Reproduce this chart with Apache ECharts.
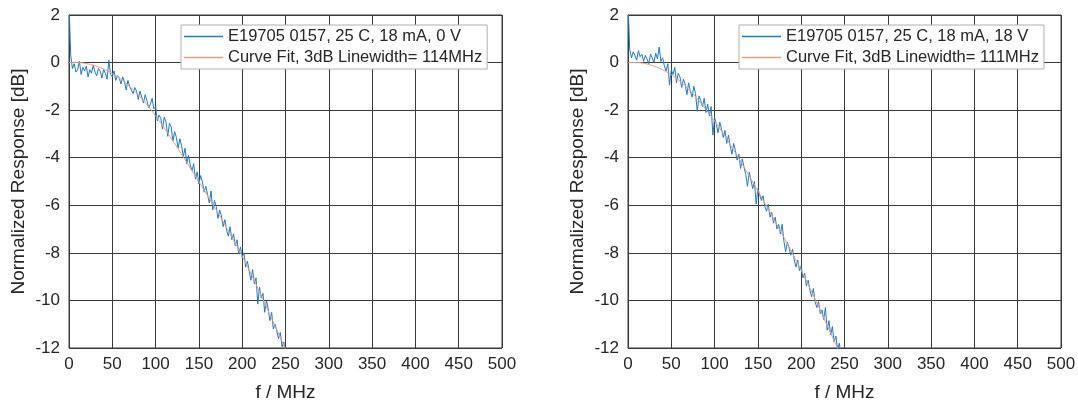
<!DOCTYPE html>
<html>
<head>
<meta charset="utf-8">
<script src="https://cdn.jsdelivr.net/npm/echarts@6/dist/echarts.min.js"></script>
<style>
html,body{margin:0;padding:0;background:#fff;}
#chart{width:1078px;height:400px;}
</style>
</head>
<body>
<div id="chart"></div>
<script>
// Frequency sampling (MHz) of measured data
const freqMeas = [0,2,4,6,8,10,12,14,16,18,20,22,24,26,28,30,32,34,36,38,40,42,44,46,48,50,52,54,56,58,60,62,64,66,68,70,72,74,76,78,80,82,84,86,88,90,92,94,96,98,100,102,104,106,108,110,112,114,116,118,120,122,124,126,128,130,132,134,136,138,140,142,144,146,148,150,152,154,156,158,160,162,164,166,168,170,172,174,176,178,180,182,184,186,188,190,192,194,196,198,200,202,204,206,208,210,212,214,216,218,220,222,224,226,228,230,232,234,236,238,240,242,244,246,248,250];
// Frequency sampling (MHz) of curve fits
const freqFit = [0,5,10,15,20,25,30,35,40,45,50,55,60,65,70,75,80,85,90,95,100,105,110,115,120,125,130,135,140,145,150,155,160,165,170,175,180,185,190,195,200,205,210,215,220,225,230,235,240,245,250];

// Left panel: 0 V
const measLeft = [
  2.5,0.3,-0.25,-0.05,-0.4,-0.3,0.05,-0.5,-0.2,-0.35,
  -0.15,-0.6,-0.3,-0.45,-0.1,-0.4,-0.55,-0.25,-0.35,-0.65,
  -0.3,-0.45,-0.7,0.1,-0.5,-0.6,-0.35,-0.75,-0.55,-0.65,
  -0.9,-0.6,-0.8,-1.15,-0.75,-1.0,-0.95,-1.3,-1.05,-1.2,
  -1.55,-1.2,-1.45,-1.7,-1.35,-1.6,-1.9,-1.75,-1.5,-1.95,
  -1.85,-2.45,-2.2,-2.35,-2.8,-2.3,-2.5,-3.1,-2.55,-2.7,
  -3.3,-2.9,-3.15,-3.6,-3.2,-3.5,-3.95,-3.6,-4.25,-3.9,
  -4.3,-4.55,-4.25,-4.9,-4.6,-5.1,-4.75,-5.0,-5.45,-5.2,
  -5.55,-5.9,-5.4,-6.2,-5.8,-6.05,-6.55,-6.2,-6.45,-6.9,
  -6.6,-7.05,-7.3,-6.9,-7.45,-7.2,-7.7,-7.45,-8.05,-7.75,
  -8.2,-8.0,-8.6,-8.35,-8.75,-9.15,-8.7,-9.3,-9.05,-10.15,
  -9.45,-9.9,-9.7,-10.5,-10.0,-10.35,-10.85,-10.5,-11.2,-11.0,
  -11.3,-11.6,-11.35,-11.95,-11.75,-12.4];
const fitLeft = [0,0,0,-0.01,-0.04,-0.08,-0.13,-0.2,-0.27,-0.36,-0.46,-0.57,-0.7,-0.84,-1.0,-1.17,-1.36,-1.56,-1.77,-2.0,-2.24,-2.49,-2.75,-3.02,-3.29,-3.57,-3.85,-4.14,-4.43,-4.72,-5.01,-5.3,-5.6,-5.9,-6.2,-6.5,-6.82,-7.14,-7.47,-7.8,-8.14,-8.5,-8.87,-9.25,-9.64,-10.04,-10.44,-10.84,-11.24,-11.64,-12.04];

// Right panel: 18 V
const measRight = [
  2.5,0.55,0.2,0.45,0.3,0.1,0.5,0.25,0.35,0.05,
  0.3,0.15,-0.05,0.35,0.2,0.0,0.4,0.15,0.65,0.05,
  0.2,-0.15,-0.35,-0.05,-0.95,-0.3,-0.5,-0.2,-0.85,-0.45,
  -0.6,-1.05,-0.7,-0.9,-1.35,-0.85,-1.2,-1.45,-1.0,-1.3,
  -2.05,-1.4,-1.6,-1.85,-1.5,-2.1,-1.75,-2.25,-1.85,-3.05,
  -2.3,-2.6,-2.95,-2.5,-2.8,-3.15,-2.85,-3.4,-3.05,-3.5,
  -3.85,-3.4,-3.7,-4.1,-3.85,-4.45,-4.05,-4.4,-4.7,-5.2,
  -4.6,-4.95,-5.3,-5.0,-5.95,-5.3,-5.55,-5.8,-5.6,-6.05,
  -6.25,-5.95,-6.5,-6.3,-6.75,-6.5,-7.0,-6.8,-7.2,-6.8,
  -7.5,-7.95,-7.55,-7.8,-8.1,-7.85,-8.3,-8.6,-8.3,-8.75,
  -8.55,-9.05,-8.85,-9.4,-9.15,-9.55,-9.85,-9.5,-10.05,-10.3,
  -10.05,-10.55,-10.4,-10.8,-10.3,-11.25,-10.85,-11.45,-11.1,-11.75,
  -11.5,-12.05,-11.8,-12.3,-12.2,-12.6];
const fitRight = [0,0,0,-0.01,-0.04,-0.09,-0.15,-0.22,-0.3,-0.4,-0.51,-0.64,-0.78,-0.94,-1.12,-1.31,-1.52,-1.74,-1.97,-2.21,-2.46,-2.72,-2.99,-3.27,-3.56,-3.85,-4.15,-4.46,-4.77,-5.08,-5.4,-5.72,-6.04,-6.36,-6.69,-7.02,-7.35,-7.69,-8.03,-8.38,-8.73,-9.1,-9.48,-9.86,-10.25,-10.65,-11.05,-11.45,-11.85,-12.25,-12.65];

const namesLeft = ['E19705 0157, 25 C, 18 mA, 0 V', 'Curve Fit, 3dB Linewidth= 114MHz'];
const namesRight = ['E19705 0157, 25 C, 18 mA, 18 V', 'Curve Fit, 3dB Linewidth= 111MHz'];
const xTitle = 'f / MHz';
const yTitle = 'Normalized Response [dB]';

const FONT = 'Liberation Sans';
const TXT = '#262626';
const GRIDC = '#3a3a3a';
const BLUE = '#1f7bc6';
const ORANGE = '#eb9f82';

function pairs(xs, ys){ return xs.map((x,i)=>[x, ys[i]]); }

function xAxisDef(gi){
  return {
    type:'value', gridIndex:gi, min:0, max:500, interval:50,
    name:xTitle, nameLocation:'middle', nameGap:35,
    nameTextStyle:{fontFamily:FONT,fontSize:19,color:TXT},
    axisLine:{show:true,lineStyle:{color:GRIDC,width:1}},
    axisTick:{show:false},
    axisLabel:{fontFamily:FONT,fontSize:17,color:TXT,margin:8},
    splitLine:{show:true,lineStyle:{color:GRIDC,width:1}}
  };
}
function yAxisDef(gi){
  return {
    type:'value', gridIndex:gi, min:-12, max:2, interval:2,
    name:yTitle, nameLocation:'middle', nameGap:41, nameRotate:90,
    nameTextStyle:{fontFamily:FONT,fontSize:19,color:TXT},
    axisLine:{show:true,lineStyle:{color:GRIDC,width:1}},
    axisTick:{show:false},
    axisLabel:{fontFamily:FONT,fontSize:17,color:TXT,margin:9},
    splitLine:{show:true,lineStyle:{color:GRIDC,width:1}}
  };
}
function legendDef(left, names, colors){
  return {
    left:left, top:25, orient:'vertical',
    data:names.map((n,i)=>({name:n, icon:'rect', itemStyle:{color:colors[i], borderWidth:0}})),
    itemWidth:39, itemHeight:1.5, itemGap:2,
    padding:[2,5,2,3],
    borderColor:'#b0b0b0', borderWidth:1, backgroundColor:'#ffffff',
    textStyle:{fontFamily:FONT,fontSize:16.5,lineHeight:19,color:TXT},
    selectedMode:false
  };
}
function lineSeries(name, gi, data, color, z){
  return {
    type:'line', name:name, xAxisIndex:gi, yAxisIndex:gi,
    data:data, showSymbol:false, symbol:'none', clip:true, animation:false,
    lineStyle:{color:color,width:1}, itemStyle:{color:color}, z:z
  };
}

const chart = echarts.init(document.getElementById('chart'), null, {renderer:'canvas'});
chart.setOption({
  backgroundColor:'#ffffff',
  animation:false,
  grid:[
    {left:69, top:15, width:433, height:333, show:true, borderColor:GRIDC, borderWidth:1, backgroundColor:'transparent', containLabel:false, outerBoundsMode:'none'},
    {left:628, top:15, width:433, height:333, show:true, borderColor:GRIDC, borderWidth:1, backgroundColor:'transparent', containLabel:false, outerBoundsMode:'none'}
  ],
  xAxis:[xAxisDef(0), xAxisDef(1)],
  yAxis:[yAxisDef(0), yAxisDef(1)],
  legend:[legendDef(181, namesLeft, [BLUE, ORANGE]), legendDef(739, namesRight, [BLUE, ORANGE])],
  series:[
    lineSeries(namesLeft[0], 0, pairs(freqMeas, measLeft), BLUE, 3),
    lineSeries(namesLeft[1], 0, pairs(freqFit, fitLeft), ORANGE, 4),
    lineSeries(namesRight[0], 1, pairs(freqMeas, measRight), BLUE, 3),
    lineSeries(namesRight[1], 1, pairs(freqFit, fitRight), ORANGE, 4)
  ]
});
</script>
</body>
</html>
